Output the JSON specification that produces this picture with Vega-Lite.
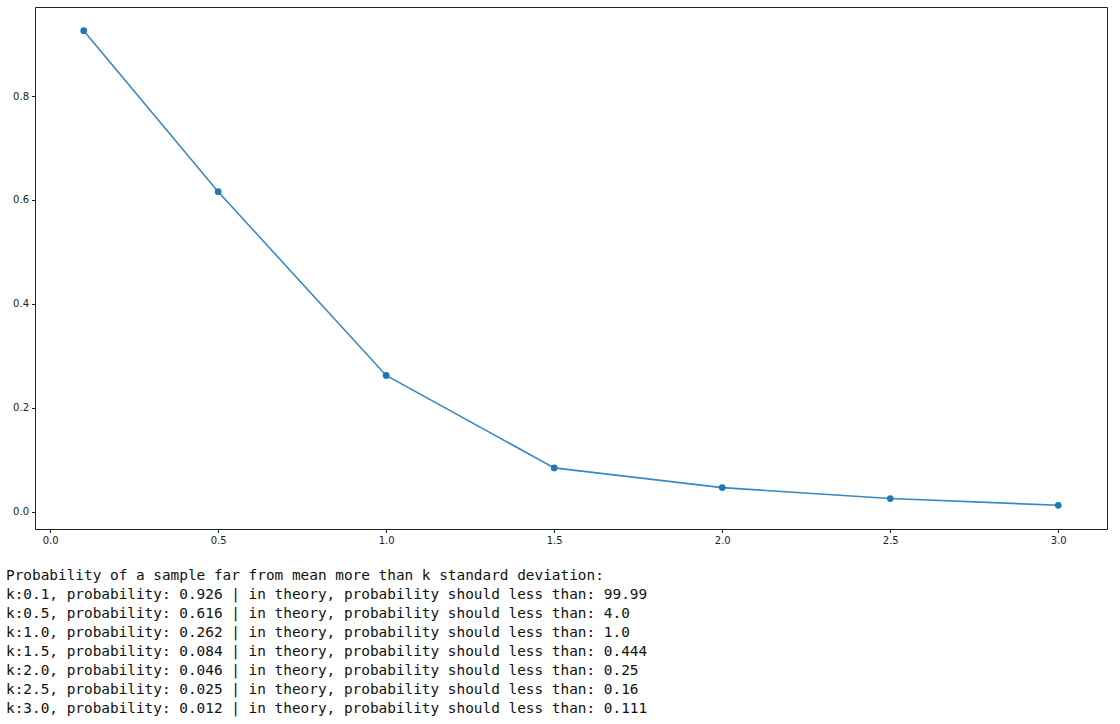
{
  "$schema": "https://vega.github.io/schema/vega-lite/v6.json",
  "width": 1072,
  "height": 522,
  "autosize": {"type": "none"},
  "padding": {"left": 35, "top": 7, "right": 13, "bottom": 195},
  "background": "white",
  "config": {
    "view": {"stroke": "#222222", "strokeWidth": 1},
    "axis": {
      "grid": false,
      "domain": false,
      "tickColor": "#222222",
      "tickSize": 3.5,
      "tickWidth": 1,
      "labelFont": "DejaVu Sans",
      "labelFontSize": 10,
      "labelColor": "#222222",
      "labelPadding": 3,
      "title": null
    }
  },
  "title": {
    "text": [
      "Probability of a sample far from mean more than k standard deviation:",
      "k:0.1, probability: 0.926 | in theory, probability should less than: 99.99",
      "k:0.5, probability: 0.616 | in theory, probability should less than: 4.0",
      "k:1.0, probability: 0.262 | in theory, probability should less than: 1.0",
      "k:1.5, probability: 0.084 | in theory, probability should less than: 0.444",
      "k:2.0, probability: 0.046 | in theory, probability should less than: 0.25",
      "k:2.5, probability: 0.025 | in theory, probability should less than: 0.16",
      "k:3.0, probability: 0.012 | in theory, probability should less than: 0.111"
    ],
    "orient": "bottom",
    "anchor": "start",
    "frame": "group",
    "dx": -29,
    "offset": 34,
    "baseline": "alphabetic",
    "font": "DejaVu Sans Mono",
    "fontSize": 14.4,
    "fontWeight": "normal",
    "color": "#111111",
    "lineHeight": 19
  },
  "data": {
    "values": [
      {"k": 0.1, "p": 0.926},
      {"k": 0.5, "p": 0.616},
      {"k": 1.0, "p": 0.262},
      {"k": 1.5, "p": 0.084},
      {"k": 2.0, "p": 0.046},
      {"k": 2.5, "p": 0.025},
      {"k": 3.0, "p": 0.012}
    ]
  },
  "encoding": {
    "x": {
      "field": "k",
      "type": "quantitative",
      "scale": {"domain": [-0.045, 3.145], "nice": false, "zero": false},
      "axis": {"values": [0, 0.5, 1, 1.5, 2, 2.5, 3], "format": ".1f"}
    },
    "y": {
      "field": "p",
      "type": "quantitative",
      "scale": {"domain": [-0.0337, 0.9717], "nice": false, "zero": false},
      "axis": {"values": [0, 0.2, 0.4, 0.6, 0.8], "format": ".1f"}
    }
  },
  "layer": [
    {"mark": {"type": "line", "color": "#3a88c0", "strokeWidth": 1.6}},
    {"mark": {"type": "point", "filled": true, "color": "#1f77b4", "opacity": 1, "size": 45}}
  ]
}
